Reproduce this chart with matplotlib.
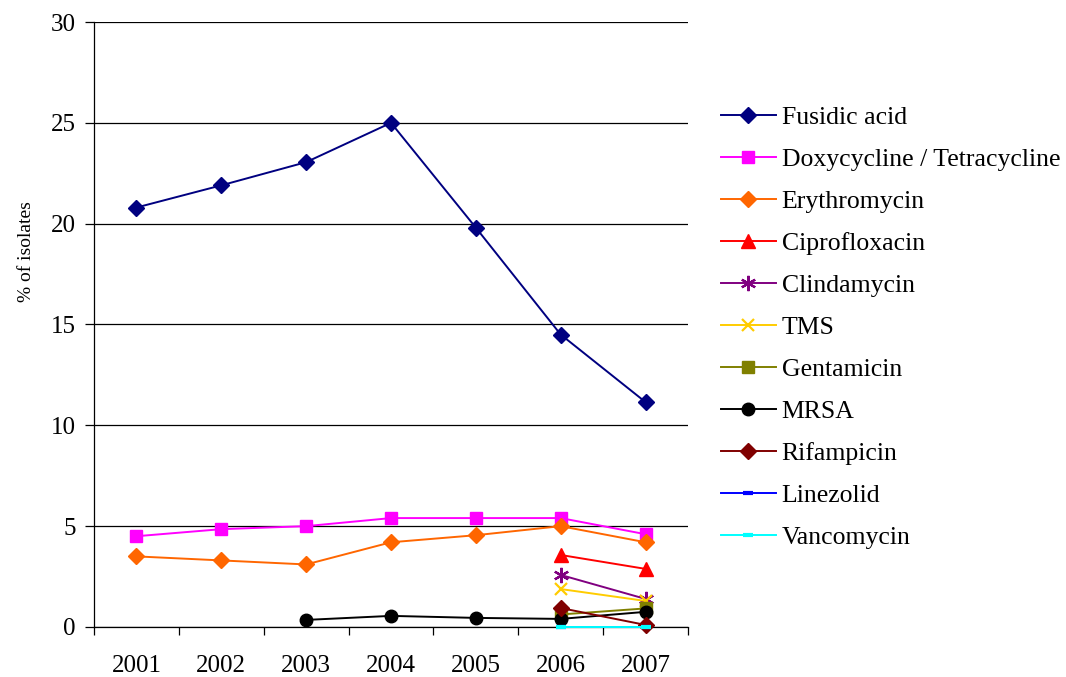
import matplotlib.pyplot as plt
import numpy as np

plt.rcParams['font.family'] = ['Liberation Serif', 'DejaVu Serif']

years = ['2001', '2002', '2003', '2004', '2005', '2006', '2007']

# % of isolates resistant, None where not tested
fusidic = [20.8, 21.9, 23.05, 25.0, 19.8, 14.5, 11.15]
doxy = [4.5, 4.85, 5.0, 5.4, 5.4, 5.4, 4.6]
erythro = [3.5, 3.3, 3.1, 4.2, 4.55, 5.0, 4.2]
cipro = [None, None, None, None, None, 3.57, 2.88]
clinda = [None, None, None, None, None, 2.58, 1.39]
tms = [None, None, None, None, None, 1.88, 1.29]
genta = [None, None, None, None, None, 0.62, 0.92]
mrsa = [None, None, 0.35, 0.55, 0.45, 0.4, 0.75]
rifam = [None, None, None, None, None, 0.94, 0.1]
linezolid = [None, None, None, None, None, 0.0, 0.0]
vanco = [None, None, None, None, None, 0.0, 0.0]

series = [
    ('Fusidic acid', fusidic, '#000080', 'D', 7.8),
    ('Doxycycline / Tetracycline', doxy, '#FF00FF', 's', 8),
    ('Erythromycin', erythro, '#FF6600', 'D', 7.8),
    ('Ciprofloxacin', cipro, '#FF0000', '^', 10),
    ('Clindamycin', clinda, '#800080', (6, 2, 0), 11),
    ('TMS', tms, '#FFCC00', 'x', 9),
    ('Gentamicin', genta, '#808000', 's', 8),
    ('MRSA', mrsa, '#000000', 'o', 9),
    ('Rifampicin', rifam, '#800000', 'D', 7.8),
    ('Linezolid', linezolid, '#0000FF', '_', 7),
    ('Vancomycin', vanco, '#00FFFF', '_', 7),
]

fig = plt.figure(figsize=(10.66, 6.77), dpi=100)
ax = fig.add_axes([0.0882, 0.0739, 0.5572, 0.8936])

x = np.arange(len(years))
for name, vals, col, mk, ms in series:
    y = np.array([np.nan if v is None else v for v in vals], dtype=float)
    ax.plot(x, y, color=col, marker=mk, markersize=ms, linewidth=1.4,
            markeredgecolor=col, markerfacecolor=col,
            markeredgewidth=1.6 if mk in ('x', (6, 2, 0)) else (3 if mk == '_' else 1),
            label=name, clip_on=False, zorder=3)

ax.set_xlim(-0.5, len(years) - 0.5)
ax.set_ylim(0, 30)
ax.set_yticks(range(0, 31, 5))
ax.yaxis.grid(True, color='#000000', linewidth=0.9)
ax.set_axisbelow(True)

# category labels between boundary ticks
ax.set_xticks(np.arange(-0.5, len(years)), minor=False)
ax.set_xticklabels([])
ax.set_xticks(x, minor=True)
ax.set_xticklabels(years, minor=True)
ax.tick_params(axis='x', which='major', direction='out', length=6, width=0.9)
ax.tick_params(axis='x', which='minor', length=0, pad=20, labelsize=18)
ax.tick_params(axis='y', direction='out', length=6.5, width=0.9, labelsize=18, pad=6.5)

for s in ['top', 'right']:
    ax.spines[s].set_visible(False)
ax.spines['left'].set_linewidth(0.9)
ax.spines['bottom'].set_linewidth(0.9)

ax.set_ylabel('% of isolates', fontsize=14)
ax.yaxis.set_label_coords(-0.1, 0.62)

ax.legend(loc='upper left', bbox_to_anchor=(1.055, 0.861), frameon=False,
          fontsize=18.5, handlelength=2.14, handletextpad=0.23,
          labelspacing=0.74, borderaxespad=0, borderpad=0)

fig.savefig('out.png', dpi=100)
